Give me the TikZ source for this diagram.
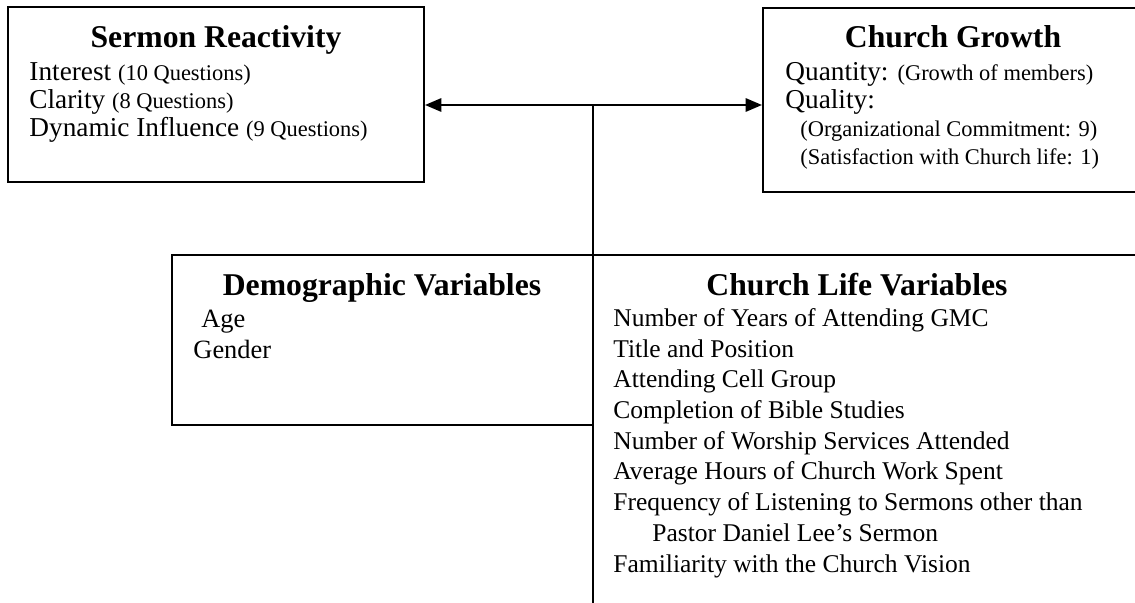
\documentclass[tikz,border=0pt]{standalone}
\usepackage{fontspec}
\setmainfont{Liberation Serif}
\usetikzlibrary{arrows.meta,fit,positioning}
\newcommand{\smalltxt}[1]{{\fontsize{10.2}{12}\selectfont #1}}

\begin{document}
\begin{tikzpicture}[x=0.4545pt, y=-0.4545pt,
  box/.style={draw=black, line width=0.85pt, inner sep=0pt},
  heading/.style={font=\fontsize{14.4}{16}\selectfont\bfseries, anchor=base, inner sep=0pt},
  items/.style={font=\fontsize{12.4}{12.7}\selectfont, align=left, anchor=base west, inner sep=0pt},
  link/.style={line width=1.2pt, {Triangle[length=7.5pt,width=6pt]}-{Triangle[length=7.5pt,width=6pt]}}]
   \useasboundingbox (0,0) rectangle (1135,602);
   \clip (0,0) rectangle (1135,602);
   % boxes
   \node[box, fit={(8,7) (424,182)}] (sermon) {};
   \node[box, fit={(763,8) (1143,192)}] (growth) {};
   \node[box, fit={(172,255) (593,425)}] (demo) {};
   \node[box, fit={(593,255) (1160,640)}] (life) {};
   % texts (list nodes are placed by the baseline of their last line)
   \node[heading] (sermonT) at (216,47) {Sermon Reactivity};
   \node[items] (sermonL) at (29,136) {Interest \smalltxt{(10 Questions)}\\
     Clarity \smalltxt{(8 Questions)}\\
     Dynamic Influence \smalltxt{(9 Questions)}};
   \node[heading] (growthT) at (953,47) {Church Growth};
   \node[items] (growthL) at (785,164) {Quantity: \smalltxt{(Growth of members)}\\
     Quality:\\
     \hspace*{6.8pt}\smalltxt{(Organizational Commitment: 9)}\\
     \hspace*{6.8pt}\smalltxt{(Satisfaction with Church life: 1)}};
   \node[heading] (demoT) at (382,295) {Demographic Variables};
   \node[items, font=\fontsize{12}{14}\selectfont] (demoL) at (193,358) {\hspace*{3.6pt}Age\\
     Gender};
   \node[heading] (lifeT) at (857,295) {Church Life Variables};
   \node[items, font=\fontsize{11.6}{13.95}\selectfont] (lifeL) at (613,572) {Number of Years of Attending GMC\\
     Title and Position\\
     Attending Cell Group\\
     Completion of Bible Studies\\
     Number of Worship Services Attended\\
     Average Hours of Church Work Spent\\
     Frequency of Listening to Sermons other than\\
     \hspace*{17.7pt}Pastor Daniel Lee’s Sermon\\
     Familiarity with the Church Vision};
   % connectors
   \coordinate (junction) at (593,105);
   \coordinate (foot) at (593,602);
   \draw[link] (junction -| sermon.east) -- (junction -| growth.west);
   \draw[line width=0.9pt] (junction) -- (foot);
\end{tikzpicture}
\end{document}
